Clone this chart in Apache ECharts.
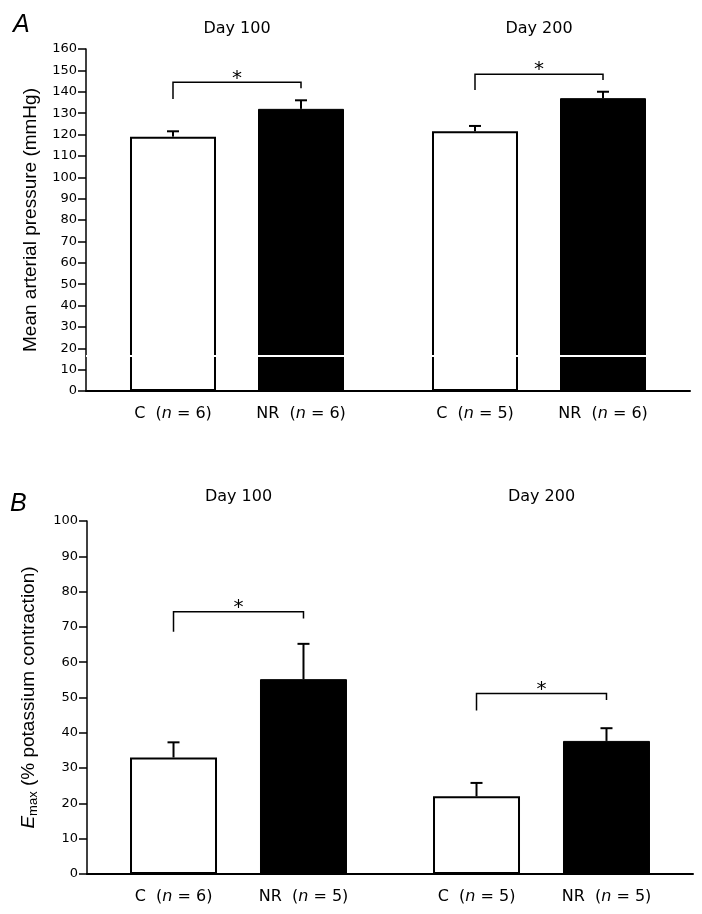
<!DOCTYPE html>
<html>
<head>
<meta charset="utf-8">
<script src="https://cdn.jsdelivr.net/npm/echarts@6/dist/echarts.min.js"></script>
<style>html,body{margin:0;padding:0;background:#fff;}#c{width:702px;height:914px;}</style>
</head>
<body>
<div id="c"></div>
<script>
// ---- data ----
const days = ['Day 100', 'Day 200'];
// Panel A: mean arterial pressure (mmHg)
const aC = [119, 121.5];
const aCerr = [2.5, 2.5];
const aNR = [132, 137];
const aNRerr = [4, 3];
const aCn = [6, 5];
const aNRn = [6, 6];
const aTicks = [0, 160, 10];
const aBreak = 16.5;
// brackets: [group, left leg bottom, top, right leg bottom]
const aBrackets = [[0, 136.6, 144.4, 141.6], [1, 140.8, 148.2, 145.5]];
// Panel B: Emax (% potassium contraction)
const bC = [33, 22];
const bCerr = [4.3, 3.8];
const bNR = [55.2, 37.7];
const bNRerr = [10, 3.6];
const bCn = [6, 5];
const bNRn = [5, 5];
const bTicks = [0, 100, 10];
const bBrackets = [[0, 68.6, 74.3, 72.4], [1, 46.3, 51.1, 49.3]];

const FONT = 'Liberation Sans';
const WFONT = 'DejaVu Sans';
const chart = echarts.init(document.getElementById('c'), null, {renderer: 'canvas'});

function layout(barW, gapPct) { return barW * (1 + gapPct) / 2; }
const barWA = 86, gapA = 0.4884, halfA = layout(barWA, gapA);
const barWB = 87, gapB = 0.494, halfB = layout(barWB, gapB);

function errSeries(idx, vals, errs, dir, half, capW) {
  return {
    type: 'custom', xAxisIndex: idx * 2, yAxisIndex: idx, z: 5, silent: true,
    data: vals.map((v, i) => [i, v, errs[i]]),
    renderItem: function (params, api) {
      const b = api.coord([api.value(0), api.value(1)]);
      const t = api.coord([api.value(0), api.value(1) + api.value(2)]);
      const x = b[0] + dir * half;
      return {type: 'group', children: [
        {type: 'line', shape: {x1: x, y1: b[1], x2: x, y2: t[1]}, style: {stroke: '#000', lineWidth: 2}},
        {type: 'line', shape: {x1: x - capW / 2, y1: t[1], x2: x + capW / 2, y2: t[1]}, style: {stroke: '#000', lineWidth: 2}}
      ]};
    }
  };
}
function bracketSeries(idx, data, half) {
  return {
    type: 'custom', xAxisIndex: idx * 2, yAxisIndex: idx, z: 5, silent: true,
    data: data,
    renderItem: function (params, api) {
      const g = api.value(0);
      const l = api.coord([g, api.value(1)]);
      const tp = api.coord([g, api.value(2)]);
      const r = api.coord([g, api.value(3)]);
      const xl = l[0] - half, xr = l[0] + half;
      return {type: 'group', children: [
        {type: 'polyline', shape: {points: [[xl, l[1]], [xl, tp[1]], [xr, tp[1]], [xr, r[1]]]},
         style: {stroke: '#000', lineWidth: 1.5, fill: null}},
        {type: 'text', style: {text: '*', x: l[0], y: tp[1] - 4, fill: '#000', font: '20px ' + WFONT,
          align: 'center', verticalAlign: 'middle'}}
      ]};
    }
  };
}
function nLabel(prefix, ns) {
  return {
    show: true, position: 'bottom', distance: 15,
    formatter: p => prefix + '  ({i|n} = ' + ns[p.dataIndex] + ')',
    fontFamily: WFONT, fontSize: 16, color: '#000',
    rich: {i: {fontStyle: 'italic', fontFamily: WFONT, fontSize: 16, color: '#000'}}
  };
}
function barSeries(idx, vals, isNR, ns, barW, gap, extra) {
  const s = {
    type: 'bar', xAxisIndex: idx * 2, yAxisIndex: idx, data: vals,
    barWidth: barW, barGap: (gap * 100) + '%',
    itemStyle: isNR ? {color: '#000', borderColor: '#000', borderWidth: 1}
                    : {color: '#fff', borderColor: '#000', borderWidth: 2},
    label: nLabel(isNR ? 'NR' : 'C', ns), silent: true
  };
  return Object.assign(s, extra || {});
}
function yAxis(idx, ticks, name, nameGap, rich) {
  return {
    type: 'value', gridIndex: idx, min: ticks[0], max: ticks[1], interval: ticks[2],
    axisLine: {show: true, lineStyle: {color: '#000', width: 1.5}},
    axisTick: {show: true, length: 8, lineStyle: {color: '#000', width: 1.5}},
    axisLabel: {color: '#000', fontFamily: WFONT, fontSize: 13, margin: 9},
    splitLine: {show: false},
    name: name, nameLocation: 'middle', nameRotate: 90, nameGap: nameGap,
    nameTextStyle: {color: '#000', fontFamily: FONT, fontSize: 19, rich: rich || {}}
  };
}
function xAxes(idx, topMargin) {
  return [
    {type: 'category', gridIndex: idx, data: days, position: 'bottom',
     axisLine: {show: true, onZero: false, lineStyle: {color: '#000', width: 2}},
     axisTick: {show: false}, axisLabel: {show: false}},
    {type: 'category', gridIndex: idx, data: days, position: 'top',
     axisLine: {show: false}, axisTick: {show: false},
     axisLabel: {show: true, color: '#000', fontFamily: WFONT, fontSize: 16, margin: topMargin}}
  ];
}

const option = {
  backgroundColor: '#fff',
  animation: false,
  title: [
    {text: 'A', left: 8, top: 8, textStyle: {fontFamily: FONT, fontStyle: 'italic', fontWeight: 'normal', fontSize: 25, color: '#000'}},
    {text: 'B', left: 5, top: 487, textStyle: {fontFamily: FONT, fontStyle: 'italic', fontWeight: 'normal', fontSize: 25, color: '#000'}}
  ],
  grid: [
    {left: 86, top: 49, width: 604, height: 342},
    {left: 87, top: 521, width: 606, height: 353}
  ],
  xAxis: [...xAxes(0, 12), ...xAxes(1, 16)],
  yAxis: [
    yAxis(0, aTicks, 'Mean arterial pressure (mmHg)', 46),
    yAxis(1, bTicks, '{e|E}{s|max} (% potassium contraction)', 47,
      {e: {fontStyle: 'italic', fontFamily: FONT, fontSize: 19, color: '#000'},
       s: {fontFamily: FONT, fontSize: 13, color: '#000', verticalAlign: 'bottom', padding: [9, 0, 0, 0]}})
  ],
  series: [
    barSeries(0, aC, false, aCn, barWA, gapA),
    barSeries(0, aNR, true, aNRn, barWA, gapA, {
      markLine: {silent: true, symbol: 'none', label: {show: false},
        lineStyle: {color: '#fff', width: 2, type: 'solid'},
        data: [{yAxis: aBreak}]}
    }),
    errSeries(0, aC, aCerr, -1, halfA, 12),
    errSeries(0, aNR, aNRerr, 1, halfA, 12),
    bracketSeries(0, aBrackets, halfA),
    barSeries(1, bC, false, bCn, barWB, gapB),
    barSeries(1, bNR, true, bNRn, barWB, gapB),
    errSeries(1, bC, bCerr, -1, halfB, 12),
    errSeries(1, bNR, bNRerr, 1, halfB, 12),
    bracketSeries(1, bBrackets, halfB)
  ]
};
chart.setOption(option);
</script>
</body>
</html>
